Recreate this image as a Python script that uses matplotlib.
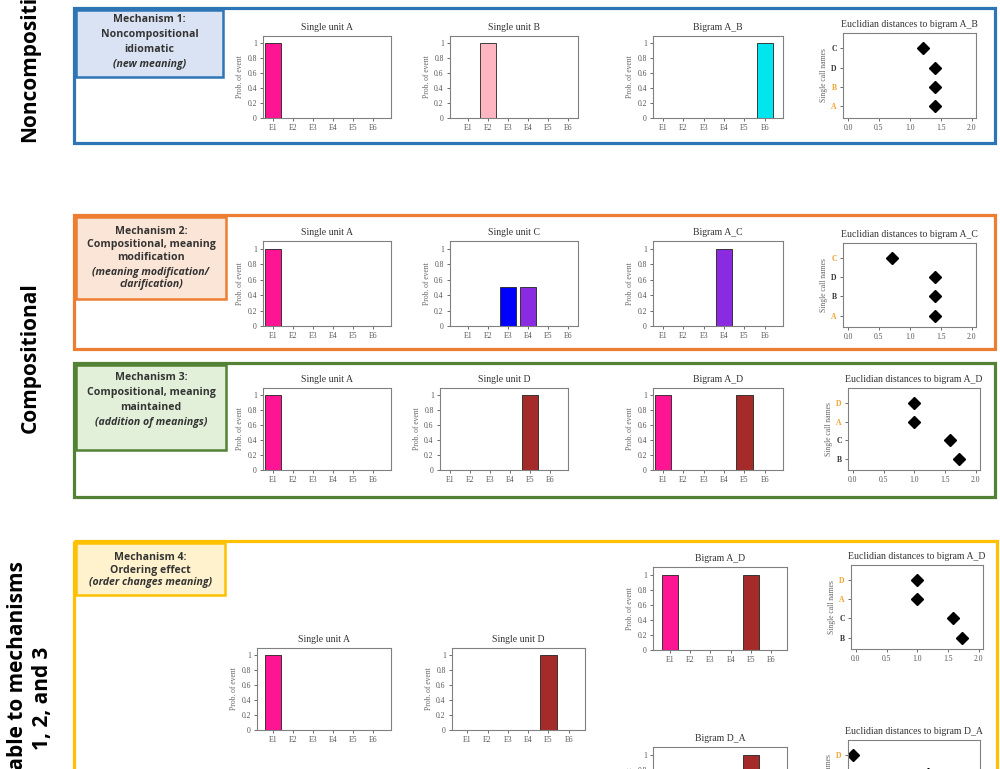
import matplotlib
matplotlib.use("Agg")
import matplotlib.pyplot as plt
from matplotlib.patches import Rectangle

# event distributions (probability of each event E1..E6)
events = ["E1", "E2", "E3", "E4", "E5", "E6"]
event_colors = ["#ff1493", "#ffb6c1", "#0000ff", "#8a2be2", "#a52a2a", "#00e5ee"]

single_A = [1, 0, 0, 0, 0, 0]
single_B = [0, 1, 0, 0, 0, 0]
single_C = [0, 0, 0.5, 0.5, 0, 0]
single_D = [0, 0, 0, 0, 1, 0]
bigram_AB = [0, 0, 0, 0, 0, 1]
bigram_AC = [0, 0, 0, 1, 0, 0]
bigram_AD = [1, 0, 0, 0, 1, 0]
bigram_DA = [0, 0, 0, 0, 1, 0]

# euclidian distances of single calls to each bigram (bottom to top)
dist_AB_names = ["A", "B", "D", "C"]
dist_AB = [1.41, 1.41, 1.41, 1.22]
dist_AC_names = ["A", "B", "D", "C"]
dist_AC = [1.41, 1.41, 1.41, 0.71]
dist_AD_names = ["B", "C", "A", "D"]
dist_AD = [1.73, 1.58, 1.0, 1.0]
dist_DA_names = ["B", "A", "C", "D"]
dist_DA = [1.41, 1.41, 1.22, 0.0]

W, H = 1000, 769
SERIF = "Liberation Serif"
SANS = "Open Sans"
GREY = "#808080"
ORANGE_TXT = "#f0a030"

fig = plt.figure(figsize=(W / 100, H / 100), dpi=100)
fig.patch.set_facecolor("white")

# background layer in pixel coordinates for boxes and labels
bg = fig.add_axes([0, 0, 1, 1], zorder=0)
bg.set_xlim(0, W)
bg.set_ylim(H, 0)
bg.axis("off")


def px_axes(x0, y0, x1, y1):
  return fig.add_axes([x0 / W, 1 - y1 / H, (x1 - x0) / W, (y1 - y0) / H], zorder=2)


def style_spines(ax):
  for s in ax.spines.values():
    s.set_color(GREY)
    s.set_linewidth(0.8)
  ax.tick_params(colors="#555555", labelsize=5.5, length=2.5, width=0.6, pad=2)
  for lab in ax.get_xticklabels() + ax.get_yticklabels():
    lab.set_fontfamily(SERIF)


def bar_panel(box, title, values, xlim=(-0.5, 5.9)):
  ax = px_axes(*box)
  x = range(len(events))
  ax.bar(x, values, width=0.8, color=event_colors, edgecolor="#222222", linewidth=0.6)
  ax.set_xlim(*xlim)
  ax.set_ylim(0, 1.1)
  ax.set_xticks(list(x))
  ax.set_xticklabels(events)
  ax.set_yticks([0, 0.2, 0.4, 0.6, 0.8, 1])
  ax.set_yticklabels(["0", "0.2", "0.4", "0.6", "0.8", "1"])
  ax.set_ylabel("Prob. of event", fontsize=5.5, color="#666666", family=SERIF, labelpad=2)
  ax.set_title(title, fontsize=7, color="#333333", family=SERIF, pad=4)
  style_spines(ax)
  return ax


def dist_panel(box, title, names, values, targets):
  ax = px_axes(*box)
  y = range(len(names))
  ax.plot(values, list(y), "D", color="black", markersize=6, linestyle="none")
  ax.set_xlim(-0.08, 2.07)
  ax.set_ylim(-0.6, 3.8)
  ax.set_xticks([0, 0.5, 1.0, 1.5, 2.0])
  ax.set_xticklabels(["0.0", "0.5", "1.0", "1.5", "2.0"])
  ax.set_yticks(list(y))
  ax.set_yticklabels(names)
  ax.set_ylabel("Single call names", fontsize=5.5, color="#666666", family=SERIF, labelpad=2)
  ax.set_title(title, fontsize=7, color="#333333", family=SERIF, pad=4)
  style_spines(ax)
  for lab, n in zip(ax.get_yticklabels(), names):
    lab.set_color(ORANGE_TXT if n in targets else "#333333")
    lab.set_fontweight("bold")
  return ax


def section(outer, label, color, fill, lines, line_y):
  x0, y0, x1, y1 = outer
  bg.add_patch(Rectangle((x0, y0), x1 - x0, y1 - y0, fill=False, edgecolor=color, linewidth=2.3))
  lx0, ly0, lx1, ly1 = label
  bg.add_patch(Rectangle((lx0, ly0), lx1 - lx0, ly1 - ly0, facecolor=fill, edgecolor=color, linewidth=1.8))
  cx = (lx0 + lx1) / 2
  for (txt, italic), yy in zip(lines, line_y):
    bg.text(cx, yy, txt, ha="center", va="center", fontsize=7.6, fontweight="bold",
            style="italic" if italic else "normal", color="#333333", family=SANS)


section((74, 8, 995, 143), (76, 10, 223, 77), "#2e75b6", "#dae3f3", [
  ("Mechanism 1:", False), ("Noncompositional", False), ("idiomatic", False), ("(new meaning)", True)],
  [20, 35, 50, 65])
section((74, 215, 995, 349), (76, 217, 226, 299), "#ed7d31", "#fbe5d6", [
  ("Mechanism 2:", False), ("Compositional, meaning", False), ("modification", False),
  ("(meaning modification/", True), ("clarification)", True)],
  [231, 244, 258, 272, 285])
section((74, 363, 995, 497), (76, 365, 226, 450), "#538135", "#e2f0d9", [
  ("Mechanism 3:", False), ("Compositional, meaning", False), ("maintained", False),
  ("(addition of meanings)", True)],
  [378, 393, 408, 423])
section((74, 541, 997, 800), (76, 543, 225, 595), "#ffc000", "#fff2cc", [
  ("Mechanism 4:", False), ("Ordering effect", False), ("(order changes meaning)", True)],
  [557, 570, 583])

# row labels on the left
bg.text(30, 46, "Noncompositional", rotation=90, ha="center", va="center",
        fontsize=15, fontweight="bold", family=SANS, color="black")
bg.text(30, 358, "Compositional", rotation=90, ha="center", va="center",
        fontsize=15, fontweight="bold", family=SANS, color="black")
bg.text(30, 698, "Applicable to mechanisms\n1, 2, and 3", rotation=90, ha="center", va="center",
        fontsize=15, fontweight="bold", family=SANS, color="black", linespacing=1.25)

# mechanism 1
bar_panel((263, 36, 391, 118), "Single unit A", single_A)
bar_panel((450, 36, 578, 118), "Single unit B", single_B, xlim=(-0.9, 5.5))
bar_panel((653, 36, 783, 118), "Bigram A_B", bigram_AB)
dist_panel((843, 33, 976, 118), "Euclidian distances to bigram A_B", dist_AB_names, dist_AB, ["A", "B"])

# mechanism 2
bar_panel((263, 241, 391, 326), "Single unit A", single_A)
bar_panel((450, 241, 578, 326), "Single unit C", single_C, xlim=(-0.9, 5.5))
bar_panel((653, 241, 783, 326), "Bigram A_C", bigram_AC)
dist_panel((843, 243, 976, 327), "Euclidian distances to bigram A_C", dist_AC_names, dist_AC, ["A", "C"])

# mechanism 3
bar_panel((263, 388, 391, 470), "Single unit A", single_A)
bar_panel((440, 388, 568, 470), "Single unit D", single_D)
bar_panel((653, 388, 783, 470), "Bigram A_D", bigram_AD)
dist_panel((848, 388, 980, 470), "Euclidian distances to bigram A_D", dist_AD_names, dist_AD, ["A", "D"])

# mechanism 4
bar_panel((257, 648, 391, 730), "Single unit A", single_A, xlim=(-0.8, 5.9))
bar_panel((452, 648, 585, 730), "Single unit D", single_D, xlim=(-0.75, 5.8))
bar_panel((653, 567, 787, 650), "Bigram A_D", bigram_AD, xlim=(-0.85, 5.8))
dist_panel((851, 565, 983, 649), "Euclidian distances to bigram A_D", dist_AD_names, dist_AD, ["A", "D"])
bar_panel((653, 747, 787, 830), "Bigram D_A", bigram_DA, xlim=(-0.85, 5.8))
dist_panel((848, 740, 980, 822), "Euclidian distances to bigram D_A", dist_DA_names, dist_DA, ["D", "A"])

fig.savefig("out.png", dpi=100)
